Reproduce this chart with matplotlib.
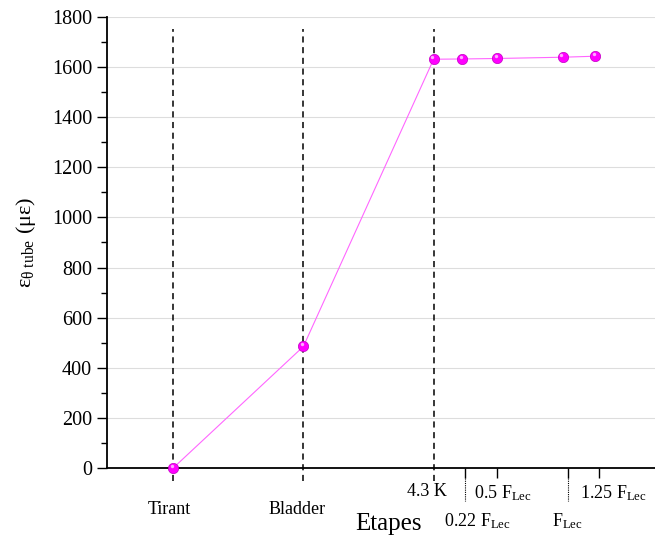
import numpy as np
import matplotlib.pyplot as plt

plt.rcParams['font.family'] = ['Liberation Serif', 'DejaVu Serif']
plt.rcParams['mathtext.fontset'] = 'stix'

# Data
stages = ['Tirant', 'Bladder', '4.3 K']
x_pos = [1.0, 2.0, 3.0, 3.22, 3.49, 3.99, 4.24]
strain = [0, 485, 1631, 1632, 1634, 1639, 1643]
phase_x = [1.0, 2.0, 3.0]
tick_x = [3.24, 3.49, 4.03, 4.27]
tick_lbl = ['0.22 F$_{\\mathregular{Lec}}$', '0.5 F$_{\\mathregular{Lec}}$',
            'F$_{\\mathregular{Lec}}$', '1.25 F$_{\\mathregular{Lec}}$']

fig = plt.figure(figsize=(6.55, 5.39), dpi=100)
ax = fig.add_axes([0.163, 0.1317, 0.837, 0.837])

ax.plot(x_pos, strain, color='#ff66ff', lw=0.8, zorder=3)
ax.scatter(x_pos, strain, s=55, color='#ff00ff', edgecolors='#c000c0',
           linewidths=0.5, zorder=4, clip_on=False)
# small highlight to mimic the shaded balls
ax.scatter(np.array(x_pos) - 0.012, np.array(strain) + 8, s=6, color='#ffaaff',
           linewidths=0, zorder=5, clip_on=False)

for xv in phase_x:
    ax.plot([xv, xv], [-50, 1750], ls=(0, (4, 3)), color='black', lw=1.1,
            clip_on=False, zorder=2)

ax.set_xlim(0.49, 4.7)
ax.set_ylim(0, 1800)
ax.set_yticks(np.arange(0, 1801, 200))
ax.set_yticks(np.arange(0, 1801, 100), minor=True)
ax.grid(True, axis='y', color='#dddddd', lw=0.8)
ax.set_axisbelow(True)

ax.set_xticks(tick_x)
ax.set_xticklabels([])
ax.tick_params(axis='x', direction='out', length=7, width=1)
ax.tick_params(axis='y', which='major', direction='out', length=7, width=1,
               labelsize=14.5, pad=3.5)
ax.tick_params(axis='y', which='minor', direction='out', length=4, width=1)

for s in ['top', 'right']:
    ax.spines[s].set_visible(False)
for s in ['left', 'bottom']:
    ax.spines[s].set_linewidth(1.3)

# dotted extensions for staggered labels
for xv in [tick_x[0], tick_x[2]]:
    ax.plot([xv, xv], [-40, -130], ls=(0, (1, 1)), color='black', lw=0.8, clip_on=False)

tr = ax.get_xaxis_transform()
fs = 13
ax.text(0.97, -0.091, stages[0], transform=tr, ha='center', va='center', fontsize=fs)
ax.text(1.95, -0.091, stages[1], transform=tr, ha='center', va='center', fontsize=fs)
ax.text(2.95, -0.051, stages[2], transform=tr, ha='center', va='center', fontsize=fs)
ax.text(3.53, -0.055, tick_lbl[1], transform=tr, ha='center', va='center', fontsize=fs)
ax.text(4.38, -0.055, tick_lbl[3], transform=tr, ha='center', va='center', fontsize=fs)
ax.text(3.335, -0.119, tick_lbl[0], transform=tr, ha='center', va='center', fontsize=fs)
ax.text(4.025, -0.119, tick_lbl[2], transform=tr, ha='center', va='center', fontsize=fs)

ax.text(2.65, -0.125, 'Etapes', transform=tr, ha='center', va='center', fontsize=18)
ax.set_ylabel('ε$_{\\mathregular{θ\\ tube}}$ (με)', fontsize=16, labelpad=10)

fig.savefig('out.png', dpi=100)
